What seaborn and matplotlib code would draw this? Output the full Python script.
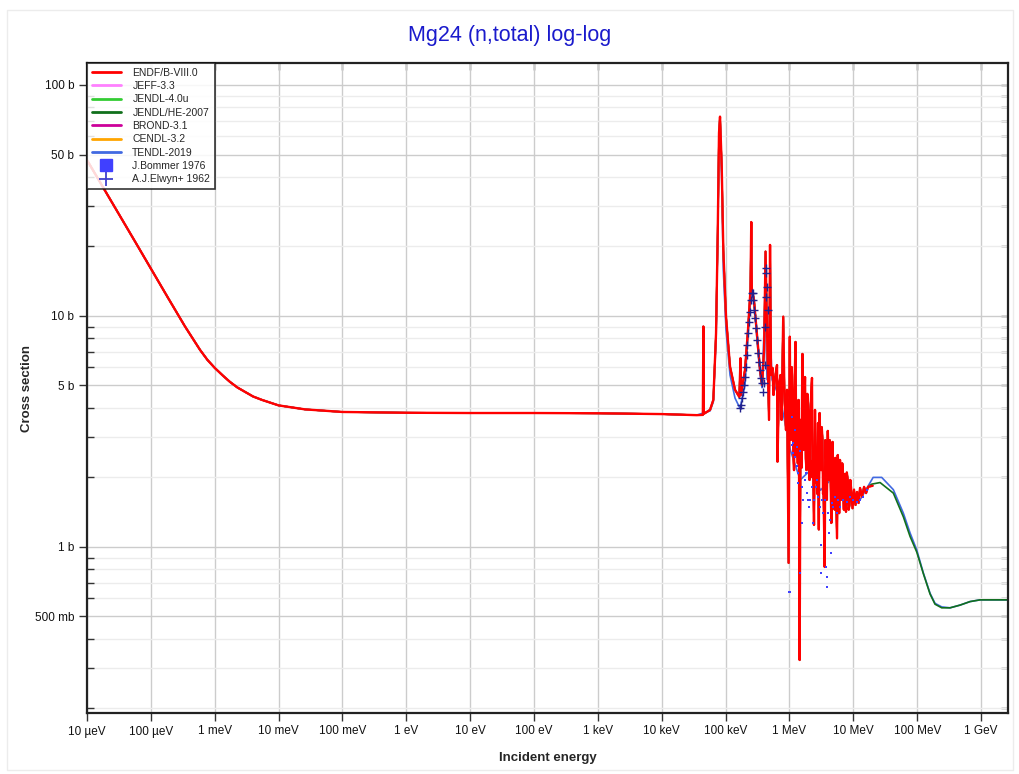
import matplotlib
matplotlib.use("Agg")
import numpy as np
import pandas as pd
import matplotlib.pyplot as plt
import seaborn as sns
from matplotlib.lines import Line2D
from matplotlib.ticker import FixedLocator, NullFormatter, LogLocator, NullLocator
from matplotlib.patches import Rectangle

# ---------------- data (energy in eV, cross section in barns) ----------------
low_energy = [1e-5, 3.09e-5, 5.54e-5, 1e-4, 1.85e-4, 3.43e-4, 5.89e-4, 7.7e-4, 1e-3, 1.33e-3,
              1.735e-3, 2.27e-3, 2.98e-3, 3.99e-3, 5.5e-3, 1e-2, 2.6e-2, 0.1, 1, 10,
              100, 1e3, 1e4, 3.52e4]
low_xs = [47.3, 27.9, 21.2, 16.04, 12.0, 9.0, 7.13, 6.45, 5.96, 5.53,
          5.18, 4.90, 4.69, 4.48, 4.33, 4.10, 3.94, 3.84, 3.81, 3.80,
          3.80, 3.79, 3.76, 3.72]

endf_res_energy = [4.40e4, 4.48e4, 4.56e4, 5.70e4, 6.42e4, 7.08e4, 7.52e4, 7.88e4, 8.17e4, 8.69e4,
                   9.20e4, 1.014e5, 1.172e5, 1.403e5, 1.64e5, 1.71e5, 1.74e5, 2.01e5, 2.24e5, 2.45e5,
                   2.52e5, 2.57e5, 2.78e5, 3.10e5, 3.46e5, 3.72e5, 4.00e5, 4.22e5, 4.45e5, 4.78e5,
                   4.96e5, 5.14e5, 5.42e5, 5.62e5, 5.93e5, 6.38e5, 6.49e5, 6.85e5, 7.24e5, 7.51e5,
                   7.98e5, 8.36e5, 8.82e5, 9.15e5, 9.69e5, 1.012e6, 1.035e6, 1.057e6, 1.085e6, 1.116e6,
                   1.147e6, 1.178e6, 1.21e6, 1.243e6, 1.277e6, 1.312e6, 1.35e6, 1.385e6, 1.41e6, 1.442e6,
                   1.489e6, 1.54e6, 1.595e6, 1.660e6, 1.70e6, 1.751e6, 1.80e6, 1.849e6, 1.90e6, 1.951e6,
                   2.06e6, 2.11e6, 2.17e6, 2.25e6, 2.29e6, 2.34e6, 2.42e6, 2.51e6, 2.58e6, 2.65e6,
                   2.72e6, 2.80e6, 2.88e6, 2.96e6, 3.12e6, 3.20e6, 3.29e6, 3.35e6, 3.41e6, 3.56e6,
                   3.64e6, 3.73e6, 3.85e6, 3.98e6, 4.16e6, 4.26e6, 4.36e6, 4.52e6, 4.72e6, 4.85e6,
                   4.98e6, 5.10e6, 5.22e6, 5.55e6, 5.70e6, 5.86e6, 6.00e6, 6.18e6, 6.53e6, 6.70e6,
                   6.89e6, 7.10e6, 7.27e6, 7.67e6, 7.90e6, 8.19e6, 8.45e6, 8.71e6, 8.95e6, 9.20e6,
                   9.71e6, 1.025e7, 1.082e7, 1.142e7, 1.206e7, 1.273e7, 1.368e7, 1.472e7, 1.58e7, 1.70e7,
                   2.0e7]
endf_res_xs = [3.73, 9.0, 3.77, 3.92, 4.33, 8.41, 22.8, 62.0, 72.9, 44.3,
               19.3, 9.93, 6.03, 4.79, 4.46, 6.56, 4.55, 5.84, 8.70, 12.97,
               25.5, 13.2, 11.7, 8.27, 5.84, 5.03, 7.13, 19.0, 8.70, 3.55,
               20.3, 5.55, 5.96, 4.55, 5.39, 6.13, 2.34, 5.03, 5.55, 3.55,
               9.93, 4.33, 3.21, 4.79, 0.853, 8.13, 3.0, 2.91, 6.0, 4.33,
               2.6, 2.15, 5.5, 7.72, 2.5, 3.21, 2.3, 4.33, 2.5, 0.324,
               3.55, 2.2, 6.85, 2.63, 4.2, 5.44, 2.4, 2.15, 4.6, 3.55,
               1.95, 3.9, 4.33, 5.39, 2.0, 2.38, 1.245, 3.92, 1.9, 2.63,
               1.7, 3.44, 1.19, 3.80, 2.15, 3.3, 2.91, 1.7, 1.76, 0.819,
               2.9, 2.63, 1.6, 3.18, 1.95, 2.9, 2.38, 1.27, 2.85, 1.5,
               2.15, 1.45, 2.43, 1.09, 2.5, 2.15, 1.4, 2.38, 1.60, 2.3,
               2.05, 1.45, 2.07, 1.42, 2.1, 1.95, 1.45, 1.52, 1.95, 1.80,
               1.47, 1.77, 1.52, 1.73, 1.55, 1.80, 1.65, 1.82, 1.71, 1.82,
               1.84]

tendl_res_energy = [5.70e4, 6.42e4, 7.08e4, 7.52e4, 7.88e4, 8.17e4, 8.69e4, 9.20e4, 1.014e5, 1.172e5,
                    1.403e5, 1.68e5, 2.01e5, 2.24e5, 2.54e5, 2.78e5, 3.10e5, 3.46e5, 3.72e5, 4.14e5,
                    4.45e5, 4.96e5, 5.33e5, 7.24e5, 1.03e6, 1.47e6, 2.13e6, 3.06e6, 4.40e6, 6.18e6,
                    9.04e6, 1.273e7, 1.58e7, 2.04e7, 2.78e7, 4.23e7, 6.07e7, 7.73e7, 9.84e7, 1.25e8,
                    1.59e8, 1.90e8, 2.42e8, 3.27e8, 4.69e8, 6.72e8, 9.64e8, 2.84e9]
tendl_res_xs = [3.88, 4.25, 7.88, 21.3, 52.3, 67.2, 38.8, 15.8, 8.7, 5.55,
                4.41, 3.98, 5.03, 8.27, 12.97, 11.7, 7.88, 5.55, 4.89, 11.7,
                5.3, 8.7, 5.3, 4.33, 2.63, 1.95, 2.15, 1.76, 1.95, 1.60,
                1.68, 1.60, 1.77, 2.0, 2.0, 1.77, 1.40, 1.15, 0.97, 0.77,
                0.63, 0.57, 0.55, 0.545, 0.56, 0.58, 0.59, 0.59]

jendlhe_tail_energy = [1.94e7, 2.62e7, 4.23e7, 6.07e7, 7.73e7, 9.84e7, 1.25e8, 1.59e8,
                       1.90e8, 2.42e8, 3.27e8, 4.69e8, 6.72e8, 9.64e8, 2.84e9]
jendlhe_tail_xs = [1.87, 1.90, 1.71, 1.35, 1.11, 0.95, 0.765, 0.625,
                   0.565, 0.545, 0.545, 0.56, 0.58, 0.59, 0.59]

elwyn_energy = [1.681e5, 1.742e5, 1.826e5, 1.892e5, 1.941e5, 2.013e5, 2.087e5, 2.141e5, 2.188e5, 2.267e5,
                2.325e5, 2.410e5, 2.498e5, 2.590e5, 2.685e5, 2.715e5, 2.814e5, 2.917e5, 2.992e5, 3.136e5,
                3.217e5, 3.334e5, 3.457e5, 3.584e5, 3.715e5, 3.811e5, 3.993e5, 4.095e5, 4.184e5, 4.246e5,
                4.291e5, 4.338e5, 4.498e5, 4.564e5]
elwyn_xs = [3.985, 4.12, 4.40, 4.70, 5.03, 5.46, 6.03, 6.78, 7.49, 8.42,
            9.45, 10.44, 11.73, 12.54, 12.62, 11.73, 10.62, 9.77, 8.85, 7.87,
            6.90, 6.34, 5.84, 5.37, 5.11, 4.70, 5.11, 6.14, 8.99, 12.12,
            15.30, 16.09, 13.39, 10.62]

bommer_energy = [1.084e6, 1.148e6, 1.221e6, 1.298e6, 1.327e6, 1.376e6, 1.463e6, 1.555e6, 1.648e6, 1.751e6,
                 1.816e6, 1.862e6, 1.973e6, 2.046e6, 2.098e6, 2.230e6, 2.363e6, 2.424e6, 2.604e6, 2.672e6,
                 2.830e6, 3.008e6, 3.085e6, 3.199e6, 3.388e6, 3.602e6, 3.735e6, 3.830e6, 3.914e6, 4.058e6,
                 4.207e6, 4.315e6, 4.425e6, 4.587e6, 4.860e6, 5.167e6, 5.494e6, 5.820e6, 6.187e6, 6.970e6,
                 7.877e6, 8.874e6, 9.995e6, 1.130e7, 1.273e7, 1.433e7, 1.620e7, 9.70e5, 1.463e6, 1.084e6,
                 1.148e6, 1.20e6, 1.376e6, 1.555e6, 1.02e6, 3.085e6]
bommer_xs = [2.76, 2.54, 2.46, 2.72, 2.23, 2.08, 2.59, 1.82, 1.60, 1.95,
             2.08, 1.71, 1.60, 1.49, 1.60, 1.82, 1.27, 1.60, 1.82, 1.95,
             1.65, 1.49, 1.02, 1.60, 1.40, 1.60, 0.82, 0.673, 0.744, 1.40,
             1.15, 1.31, 0.94, 1.55, 1.49, 1.65, 1.40, 1.60, 1.49, 1.60,
             1.57, 1.65, 1.60, 1.57, 1.60, 1.65, 1.77, 0.64, 0.774, 3.66,
             2.81, 3.21, 1.89, 1.27, 0.64, 0.77]

x_tick_values = [1e-5, 1e-4, 1e-3, 1e-2, 1e-1, 1e0, 1e1, 1e2, 1e3, 1e4, 1e5, 1e6, 1e7, 1e8, 1e9]
x_tick_labels = ["10 µeV", "100 µeV", "1 meV", "10 meV", "100 meV", "1 eV", "10 eV", "100 eV",
                 "1 keV", "10 keV", "100 keV", "1 MeV", "10 MeV", "100 MeV", "1 GeV"]
y_tick_values = [0.5, 1, 5, 10, 50, 100]
y_tick_labels = ["500 mb", "1 b", "5 b", "10 b", "50 b", "100 b"]

eval_labels = ["ENDF/B-VIII.0", "JEFF-3.3", "JENDL-4.0u", "JENDL/HE-2007", "BROND-3.1", "CENDL-3.2", "TENDL-2019"]
eval_colors = ["#ff0000", "#ff80ff", "#33cc33", "#11701c", "#cc0099", "#ffa500", "#4169e1"]

# ---------------- figure ----------------
sns.set_style("white")
plt.rcParams['font.family'] = ['Liberation Sans', 'DejaVu Sans']

W, H = 1020, 774
fig = plt.figure(figsize=(W / 100, H / 100), dpi=100)
fig.patch.set_facecolor("white")
fig.add_artist(Rectangle((7 / W, 4 / H), (1013 - 7) / W, (764 - 4) / H, transform=fig.transFigure,
                         fill=False, edgecolor="#ececec", lw=1))

ax_l, ax_r, ax_t, ax_b = 87, 1008, 63, 713
ax = fig.add_axes([ax_l / W, 1 - ax_b / H, (ax_r - ax_l) / W, (ax_b - ax_t) / H])
ax.set_xscale("log")
ax.set_yscale("log")

def frame(e, s):
    return pd.DataFrame({"energy": e, "xs": s})

low_df = frame(low_energy, low_xs)
endf_df = pd.concat([low_df, frame(endf_res_energy, endf_res_xs)], ignore_index=True)
tendl_df = pd.concat([low_df, frame(tendl_res_energy, tendl_res_xs)], ignore_index=True)
jendlhe_df = pd.concat([endf_df[endf_df.energy < 1.9e7],
                        frame(jendlhe_tail_energy, jendlhe_tail_xs)], ignore_index=True)

series = {
    "TENDL-2019": tendl_df,
    "CENDL-3.2": endf_df,
    "BROND-3.1": endf_df,
    "JENDL/HE-2007": jendlhe_df,
    "JENDL-4.0u": endf_df,
    "JEFF-3.3": endf_df,
    "ENDF/B-VIII.0": endf_df,
}
cmap = dict(zip(eval_labels, eval_colors))
for z, (name, df) in enumerate(series.items()):
    sns.lineplot(data=df, x="energy", y="xs", ax=ax, color=cmap[name],
                 lw=1.7 if name == "ENDF/B-VIII.0" else 1.2,
                 estimator=None, sort=False, legend=False, zorder=2 + z * 0.1)

sns.scatterplot(x=bommer_energy, y=bommer_xs, ax=ax, marker="s", s=4, color="#4040ff",
                linewidth=0, zorder=4, legend=False)
sns.scatterplot(x=elwyn_energy, y=elwyn_xs, ax=ax, marker="+", s=36, color="#22228f",
                linewidth=1.0, zorder=4, legend=False)

ax.set_xlim(1e-5, 2.64e9)
ax.set_ylim(0.191, 124.5)

# ticks
ax.xaxis.set_major_locator(FixedLocator(x_tick_values))
ax.set_xticklabels(x_tick_labels)
ax.xaxis.set_minor_locator(NullLocator())
ax.yaxis.set_major_locator(FixedLocator(y_tick_values))
ax.set_yticklabels(y_tick_labels)
ax.yaxis.set_minor_locator(LogLocator(base=10, subs=[2, 3, 4, 6, 7, 8, 9], numticks=20))
ax.yaxis.set_minor_formatter(NullFormatter())
ax.tick_params(axis="both", which="major", direction="out", length=6, width=1, color="#333333",
               labelsize=8.5, labelcolor="#111111", pad=3, bottom=True, left=True)
ax.tick_params(axis="y", which="minor", direction="in", length=5, width=1, color="#333333", left=True)

# right & top inward ticks
sec_y = ax.secondary_yaxis("right")
sec_y.yaxis.set_major_locator(FixedLocator(y_tick_values))
sec_y.yaxis.set_minor_locator(LogLocator(base=10, subs=[2, 3, 4, 6, 7, 8, 9], numticks=20))
sec_y.yaxis.set_major_formatter(NullFormatter())
sec_y.yaxis.set_minor_formatter(NullFormatter())
sec_y.tick_params(which="both", direction="in", length=5, width=1, color="#333333")
sec_x = ax.secondary_xaxis("top")
sec_x.xaxis.set_major_locator(FixedLocator(x_tick_values))
sec_x.xaxis.set_minor_locator(NullLocator())
sec_x.xaxis.set_major_formatter(NullFormatter())
sec_x.tick_params(which="both", direction="in", length=5, width=1, color="#333333")
for s in list(sec_y.spines.values()) + list(sec_x.spines.values()):
    s.set_visible(False)

# grid
ax.grid(which="major", axis="both", color="#cccccc", lw=1.0, zorder=0)
ax.grid(which="minor", axis="y", color="#ececec", lw=1.0, zorder=0)
ax.set_axisbelow(True)

for sp in ax.spines.values():
    sp.set_color("#222222")
    sp.set_linewidth(1.6)

ax.set_xlabel("Incident energy", fontsize=9.5, fontweight="bold")
ax.set_ylabel("Cross section", fontsize=9.5, fontweight="bold")
ax.xaxis.set_label_coords(0.5, (ax_b - 752) / (ax_b - ax_t))
ax.yaxis.set_label_coords((33 - ax_l) / (ax_r - ax_l), 0.5)

fig.text(0.5, 1 - 35 / H, "Mg24 (n,total) log-log", color="#1a1acc", fontsize=15.5,
         ha="center", va="center")

# legend
handles = [Line2D([], [], color=c, lw=2) for c in eval_colors]
handles.append(Line2D([], [], marker="s", ls="None", color="#4040ff", markersize=8))
handles.append(Line2D([], [], marker="+", ls="None", color="#4040cc", markersize=10, mew=1.3))
labels = eval_labels + ["J.Bommer 1976", "A.J.Elwyn+ 1962"]
leg = ax.legend(handles, labels, loc="upper left", bbox_to_anchor=(0, 1), borderaxespad=0,
                fontsize=7.5, frameon=True, fancybox=False, framealpha=0.85, edgecolor="#111111",
                handlelength=2.8, handletextpad=1.1, labelspacing=0.32, borderpad=0.45)
leg.get_frame().set_linewidth(1.2)
leg.set_zorder(10)

fig.savefig("out.png", dpi=100)
